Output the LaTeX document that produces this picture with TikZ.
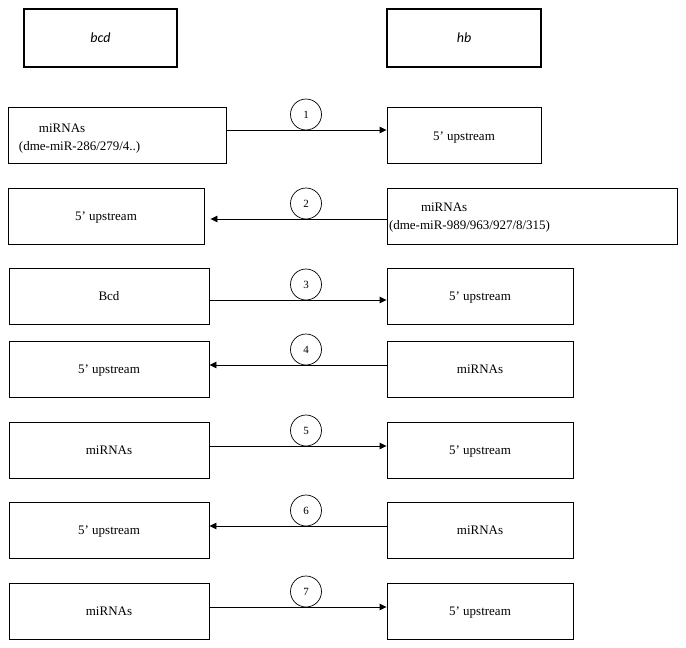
\documentclass[tikz,border=0pt]{standalone}
\usepackage{fontspec}
\setmainfont{Liberation Serif}
\newfontfamily\genefont{Carlito}
\usetikzlibrary{arrows.meta}

\begin{document}
\begin{tikzpicture}[x=1pt,y=-1pt,
  genebox/.style={draw,line width=2.6pt,minimum height=58pt,font=\genefont\itshape\fontsize{14}{16}\selectfont},
  sitebox/.style={draw,line width=0.9pt,minimum height=56pt,text height=8.6pt,text depth=0pt,font=\fontsize{13}{18}\selectfont},
  num/.style={draw,circle,line width=0.7pt,minimum size=31pt,inner sep=0pt,font=\fontsize{11}{13}\selectfont},
  link/.style={line width=0.9pt,-{Triangle[length=7pt,width=6.5pt]}}]
\useasboundingbox (0,0) rectangle (686,648);
% gene boxes
\node[genebox,minimum width=153pt] (bcd) at (100.5,38) {bcd};
\node[genebox,minimum width=154pt] (hb) at (464,38) {hb};
% 1
\node[sitebox,minimum width=218pt,text width=196pt,inner xsep=11pt,align=left,text height=6pt,text depth=12pt] (l1) at (117,135) {\hspace*{20pt}miRNAs\\(dme-miR-286/279/4..)};
\node[sitebox,minimum width=154pt,text height=11.4pt] (r1) at (464,135) {5’ upstream};
\draw[link] ([yshift=5pt]l1.east) -- ([yshift=5pt]r1.west);
\node[num] (c1) at (306,114.5) {1};
% 2
\node[sitebox,minimum width=196pt] (l2) at (106,216) {5’ upstream};
\node[sitebox,minimum width=290pt,text width=286pt,inner xsep=2pt,align=left,text height=4pt,text depth=12.6pt] (r2) at (532,216) {\hspace*{32pt}miRNAs\\(dme-miR-989/963/927/8/315)};
\draw[link,shorten >=6pt] ([yshift=-3pt]r2.west) -- ([yshift=-3pt]l2.east);
\node[num] (c2) at (306,203.5) {2};
% 3
\node[sitebox,minimum width=200pt] (l3) at (109,296.5) {Bcd};
\node[sitebox,minimum width=186pt] (r3) at (480,296.5) {5’ upstream};
\draw[link] ([yshift=-3.5pt]l3.east) -- ([yshift=-3.5pt]r3.west);
\node[num] (c3) at (306,284.5) {3};
% 4
\node[sitebox,minimum width=200pt] (l4) at (109,369) {5’ upstream};
\node[sitebox,minimum width=186pt] (r4) at (480,369) {miRNAs};
\draw[link] ([yshift=4pt]r4.west) -- ([yshift=4pt]l4.east);
\node[num] (c4) at (306,349.5) {4};
% 5
\node[sitebox,minimum width=200pt] (l5) at (109,450) {miRNAs};
\node[sitebox,minimum width=186pt] (r5) at (480,450) {5’ upstream};
\draw[link] ([yshift=4pt]l5.east) -- ([yshift=4pt]r5.west);
\node[num] (c5) at (306,430.5) {5};
% 6
\node[sitebox,minimum width=200pt] (l6) at (109,530) {5’ upstream};
\node[sitebox,minimum width=186pt] (r6) at (480,530) {miRNAs};
\draw[link] ([yshift=4pt]r6.west) -- ([yshift=4pt]l6.east);
\node[num] (c6) at (306,510.5) {6};
% 7
\node[sitebox,minimum width=200pt] (l7) at (109,611) {miRNAs};
\node[sitebox,minimum width=186pt] (r7) at (480,611) {5’ upstream};
\draw[link] ([yshift=4pt]l7.east) -- ([yshift=4pt]r7.west);
\node[num] (c7) at (306,591.5) {7};
\end{tikzpicture}
\end{document}
